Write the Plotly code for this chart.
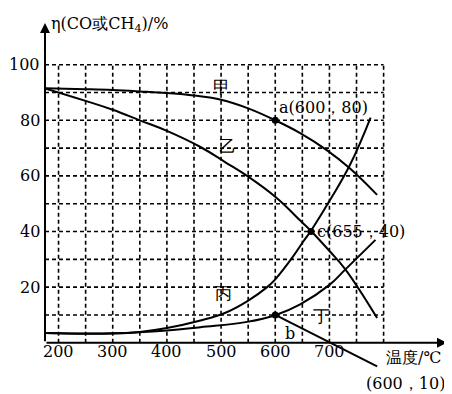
import plotly.graph_objects as go

# ---- data ----
x_jia = [175, 250, 300, 350, 400, 450, 500, 550, 600, 646, 695, 738, 788]
y_jia = [91.5, 91.2, 90.9, 90.4, 89.8, 88.9, 87.4, 84.3, 80, 75.4, 69.3, 62.7, 53.2]

x_yi = [175, 250, 300, 350, 400, 462, 508, 548, 600, 649, 666, 701, 729, 788]
y_yi = [91.5, 87, 83.8, 80, 76.2, 70.4, 64.9, 60.0, 52.5, 43.4, 40.2, 32.8, 26.5, 8.9]

x_bing = [175, 250, 300, 350, 400, 462, 508, 548, 585, 600, 631, 652, 666, 701, 738, 776]
y_bing = [3.5, 3.2, 3.3, 3.9, 5.3, 8.0, 10.8, 14.9, 20.0, 22.8, 30.5, 36.5, 40.3, 51.3, 64, 81]

x_ding = [175, 300, 400, 462, 548, 600, 646, 700, 729, 785]
y_ding = [3.5, 3.4, 4.4, 5.6, 7.5, 9.9, 13.8, 20.8, 26.3, 37]

leader_x = [600, 788]
leader_y = [10, -8.5]

key_x = [600, 600, 666]
key_y = [80, 10, 40]

x_ticks = [200, 300, 400, 500, 600, 700]
y_ticks = [20, 40, 60, 80, 100]
x_grid = [200, 250, 300, 350, 400, 450, 500, 550, 600, 650, 700, 750, 800]
y_grid = [10, 20, 30, 40, 50, 60, 70, 80, 90, 100]

X_MIN, X_MAX, X_END = 175, 800, 917
Y_MIN, Y_MAX, Y_END = 0, 100, 115

FONT = "DejaVu Serif"

fig = go.Figure()

line_style = dict(color="black", width=2, shape="spline", smoothing=1.2)
for xs, ys in [(x_jia, y_jia), (x_yi, y_yi), (x_bing, y_bing), (x_ding, y_ding)]:
    fig.add_trace(go.Scatter(x=xs, y=ys, mode="lines", line=line_style,
                             hoverinfo="skip", showlegend=False))

fig.add_trace(go.Scatter(x=leader_x, y=leader_y, mode="lines",
                         line=dict(color="black", width=2),
                         hoverinfo="skip", showlegend=False))
fig.add_trace(go.Scatter(x=key_x, y=key_y, mode="markers",
                         marker=dict(color="black", size=7),
                         hoverinfo="skip", showlegend=False, cliponaxis=False))

# dashed grid
grid_line = dict(color="black", width=1.6, dash="4px,3px")
for gx in x_grid:
    fig.add_shape(type="line", x0=gx, x1=gx, y0=Y_MIN, y1=Y_MAX,
                  xref="x", yref="y", line=grid_line, layer="below")
for gy in y_grid:
    fig.add_shape(type="line", x0=X_MIN, x1=X_MAX, y0=gy, y1=gy,
                  xref="x", yref="y", line=grid_line, layer="below")

# axes with arrows
fig.add_annotation(x=X_END, y=0, ax=X_MIN, ay=0, xref="x", yref="y",
                   axref="x", ayref="y", showarrow=True, arrowhead=2,
                   arrowsize=1, arrowwidth=2, arrowcolor="black", text="")
fig.add_annotation(x=X_MIN, y=Y_END, ax=X_MIN, ay=0, xref="x", yref="y",
                   axref="x", ayref="y", showarrow=True, arrowhead=2,
                   arrowsize=1, arrowwidth=2, arrowcolor="black", text="")

tf = dict(family=FONT, size=16, color="black")
cf = dict(family=FONT, size=17, color="black")

for t in x_ticks:
    fig.add_annotation(x=t, y=0, xref="x", yref="y", text=str(t),
                       showarrow=False, yanchor="middle", yshift=-9, font=tf)
for t in y_ticks:
    fig.add_annotation(x=X_MIN, y=t, xref="x", yref="y", text=str(t),
                       showarrow=False, xanchor="right", xshift=-3, font=tf)

labels = [
    (501, 92.0, "甲", "center", cf),
    (511, 70.6, "乙", "center", cf),
    (504, 18, "丙", "center", cf),
    (686, 9.5, "丁", "center", cf),
    (604, 84.5, "a(600，80)", "left", tf),
    (674, 40, "c(655，40)", "left", tf),
    (614, 3.5, "b", "left", tf),
]
for lx, ly, txt, anc, f in labels:
    fig.add_annotation(x=lx, y=ly, xref="x", yref="y", text=txt,
                       showarrow=False, xanchor=anc, font=f)

fig.add_annotation(x=800, y=-5.4, xref="x", yref="y", text="温度/℃",
                   showarrow=False, xanchor="left", font=tf)
fig.add_annotation(x=X_END, y=-14.6, xref="x", yref="y", text="(600，10)",
                   showarrow=False, xanchor="right", font=tf)
fig.add_annotation(x=183, y=114.5, xref="x", yref="y",
                   text="η(CO或CH<sub>4</sub>)/%",
                   showarrow=False, xanchor="left", font=tf)

fig.update_layout(
    width=444, height=386,
    margin=dict(l=37, r=5, t=15, b=4),
    paper_bgcolor="white", plot_bgcolor="white",
    xaxis=dict(range=[X_MIN, X_END], visible=False, fixedrange=True),
    yaxis=dict(range=[-17, Y_END], visible=False, fixedrange=True),
)

fig.write_html("out.html")
